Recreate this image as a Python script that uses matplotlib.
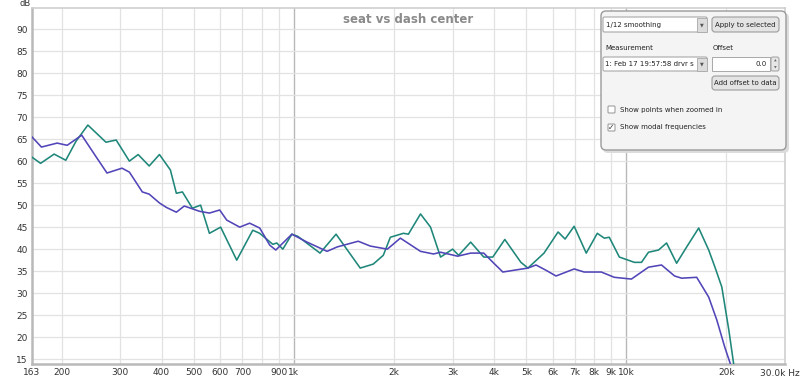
import matplotlib
matplotlib.use('Agg')
import matplotlib.pyplot as plt
from matplotlib.patches import FancyBboxPatch, Rectangle

# ---- data ----
teal_freq = [163, 173, 190, 206, 221, 240, 272, 292, 320, 340, 367, 394, 425, 443, 462,
             495, 524, 557, 602, 673, 752, 789, 864, 888, 926, 986, 1028, 1198, 1339, 1583,
             1732, 1857, 1950, 2134, 2210, 2403, 2576, 2761, 3001, 3130, 3401, 3724, 3965,
             4309, 4817, 5057, 5653, 6231, 6541, 6965, 7573, 8175, 8580, 8882, 9526, 10573,
             11101, 11656, 12494, 13209, 14160, 15184, 16502, 17686, 18449, 19366, 20333, 21053]
teal_db = [60.9, 59.5, 61.6, 60.2, 64.5, 68.2, 64.3, 64.8, 60.0, 61.5, 58.9, 61.5, 58.0, 52.7, 53.0,
           49.3, 50.0, 43.6, 45.0, 37.5, 44.3, 43.6, 41.1, 41.4, 40.0, 43.4, 42.9, 39.1, 43.4, 35.7,
           36.6, 38.6, 42.7, 43.6, 43.4, 48.0, 45.0, 38.2, 40.0, 38.6, 41.6, 38.2, 38.2,
           42.2, 37.0, 35.7, 39.1, 43.9, 42.3, 45.2, 39.1, 43.6, 42.5, 42.7, 38.2, 37.0,
           37.0, 39.3, 39.8, 41.4, 36.8, 40.5, 44.8, 39.8, 36.0, 31.4, 21.6, 13.6]

purple_freq = [163, 174, 194, 208, 230, 254, 274, 304, 320, 350, 367, 394, 413, 443, 468,
               520, 557, 598, 628, 687, 736, 789, 846, 882, 986, 1095, 1258, 1349, 1561, 1697,
               1910, 2090, 2403, 2630, 2761, 3108, 3401, 3724, 3993, 4250, 4587, 5057, 5348,
               5732, 6143, 6965, 7467, 8406, 9198, 10354, 11656, 12757, 13964, 14664, 16276,
               17686, 18707, 19771, 20619]
purple_db = [65.5, 63.2, 64.1, 63.6, 65.9, 61.0, 57.3, 58.4, 57.5, 53.0, 52.5, 50.5, 49.5, 48.4, 49.8,
             48.6, 48.2, 48.9, 46.6, 45.0, 45.9, 44.8, 40.9, 39.8, 43.4, 41.6, 39.5, 40.5, 41.8, 40.7,
             40.0, 42.5, 39.5, 38.9, 39.3, 38.4, 39.1, 39.1, 36.8, 34.8, 35.2, 35.7, 36.4,
             35.2, 33.9, 35.5, 34.8, 34.8, 33.6, 33.2, 35.9, 36.4, 33.9, 33.4, 33.6,
             29.1, 23.9, 17.7, 13.6]

x_ticks = [163, 200, 300, 400, 500, 600, 700, 900, 1000, 2000, 3000, 4000, 5000,
           6000, 7000, 8000, 9000, 10000, 20000]
x_labels = ['163', '200', '300', '400', '500', '600', '700', '900', '1k', '2k', '3k', '4k', '5k',
            '6k', '7k', '8k', '9k', '10k', '20k']
x_end_label = '30.0k Hz'
grid_light = [200, 300, 400, 500, 600, 700, 800, 900, 2000, 3000, 4000, 5000, 6000,
              7000, 8000, 9000, 20000]
grid_dark = [1000, 10000]
y_ticks = [15, 20, 25, 30, 35, 40, 45, 50, 55, 60, 65, 70, 75, 80, 85, 90]

title = 'seat vs dash center'

# ---- figure ----
W, H = 800, 378
fig = plt.figure(figsize=(W / 100, H / 100), dpi=100)
fig.patch.set_facecolor('white')

L, R, T, B = 32, 785, 8, 364
ax = fig.add_axes([L / W, (H - B) / H, (R - L) / W, (B - T) / H])
ax.set_xscale('log')
ax.set_xlim(163, 30000)
ax.set_ylim(13.9, 94.8)

for f in grid_light:
    ax.axvline(f, color='#e2e2e2', lw=0.9, zorder=0)
for f in grid_dark:
    ax.axvline(f, color='#b8b8b8', lw=1.0, zorder=0)
for y in y_ticks:
    ax.axhline(y, color='#e2e2e2', lw=0.9, zorder=0)

ax.plot(teal_freq, teal_db, color='#1f877a', lw=1.15, zorder=3, solid_joinstyle='round')
ax.plot(purple_freq, purple_db, color='#5145b8', lw=1.15, zorder=3, solid_joinstyle='round')

ax.set_xticks(x_ticks)
ax.set_xticklabels(x_labels)
ax.minorticks_off()
ax.set_yticks(y_ticks)
ax.set_yticklabels([str(v) for v in y_ticks])
ax.tick_params(length=0, labelsize=6.5, labelcolor='#333333', pad=3)

for s in ['left', 'bottom']:
    ax.spines[s].set_color('#b9b9b9')
    ax.spines[s].set_linewidth(1.8)
for s in ['top', 'right']:
    ax.spines[s].set_color('#cfcfcf')
    ax.spines[s].set_linewidth(1.2)

ax.text(0.5, 0.985, title, transform=ax.transAxes, ha='center', va='top',
        fontsize=8.5, fontweight='bold', color='#8a8a8a', zorder=4)
fig.text(20 / W, 1 - 3 / H, 'dB', fontsize=6, color='#333333', ha='left', va='center')
fig.text(780 / W, 1 - 372 / H, x_end_label, fontsize=6.5, color='#333333',
         ha='center', va='center_baseline')

# ---- overlay control panel (pixel coordinates) ----
ov = fig.add_axes([0, 0, 1, 1], zorder=10)
ov.set_xlim(0, W)
ov.set_ylim(H, 0)
ov.axis('off')
ov.patch.set_alpha(0)

def rbox(x0, y0, x1, y1, fc, ec, r=2.5, lw=0.8, z=11):
    p = FancyBboxPatch((x0, y0), x1 - x0, y1 - y0,
                       boxstyle='round,pad=0,rounding_size=%g' % r,
                       fc=fc, ec=ec, lw=lw, zorder=z)
    ov.add_patch(p)

# shadow + panel
rbox(603, 13, 789, 153, '#dcdcdc', 'none', r=5, z=10)
rbox(601, 11, 786, 150, '#f4f4f4', '#9a9a9a', r=5, lw=1.0, z=11)

fs = 5.0
tc = '#222222'
# smoothing dropdown
rbox(603, 17, 707, 32, 'white', '#a8a8a8', r=1.5)
ov.add_patch(Rectangle((697, 17.5), 9.5, 14, fc='#dcdcdc', ec='#a8a8a8', lw=0.6, zorder=12))
ov.text(702, 24.8, '\u25bc', fontsize=3.5, color='#555555', ha='center', va='center', zorder=13)
ov.text(606, 24.8, '1/12 smoothing', fontsize=fs, color=tc, ha='left', va='center', zorder=13)
# apply button
rbox(712, 17, 779, 32, '#e4e4e4', '#9c9c9c', r=3)
ov.text(745.5, 24.8, 'Apply to selected', fontsize=fs, color=tc, ha='center', va='center', zorder=13)
# labels
ov.text(605, 48, 'Measurement', fontsize=fs, color=tc, ha='left', va='center', zorder=13)
ov.text(713, 48, 'Offset', fontsize=fs, color=tc, ha='left', va='center', zorder=13)
# measurement dropdown
rbox(603, 57, 707, 71, 'white', '#a8a8a8', r=1.5)
ov.add_patch(Rectangle((697, 57.5), 9.5, 13, fc='#dcdcdc', ec='#a8a8a8', lw=0.6, zorder=12))
ov.text(702, 64.2, '\u25bc', fontsize=3.5, color='#555555', ha='center', va='center', zorder=13)
ov.text(605, 64.2, '1: Feb 17 19:57:58 drvr s', fontsize=fs, color=tc, ha='left', va='center', zorder=13)
# offset field + spinner
ov.add_patch(Rectangle((712, 57), 58, 14, fc='white', ec='#a8a8a8', lw=0.7, zorder=12))
ov.text(767, 64.2, '0.0', fontsize=fs, color=tc, ha='right', va='center', zorder=13)
rbox(771, 57, 779, 71, '#e6e6e6', '#a8a8a8', r=2)
ov.text(775, 61, '\u25b2', fontsize=2.5, color='#666666', ha='center', va='center', zorder=13)
ov.text(775, 67.5, '\u25bc', fontsize=2.5, color='#666666', ha='center', va='center', zorder=13)
# add offset button
rbox(712, 76, 779, 90, '#e4e4e4', '#9c9c9c', r=3)
ov.text(745.5, 83, 'Add offset to data', fontsize=fs, color=tc, ha='center', va='center', zorder=13)
# checkboxes
rbox(608, 106, 615, 113, 'white', '#a0a0a0', r=1)
ov.text(620, 110, 'Show points when zoomed in', fontsize=fs, color=tc, ha='left', va='center', zorder=13)
rbox(608, 124, 615, 131, 'white', '#a0a0a0', r=1)
ov.text(611.5, 127.3, '\u2713', fontsize=5.5, color='#333333', ha='center', va='center', zorder=13)
ov.text(620, 127.5, 'Show modal frequencies', fontsize=fs, color=tc, ha='left', va='center', zorder=13)

fig.savefig('out.png', dpi=100, facecolor='white')
